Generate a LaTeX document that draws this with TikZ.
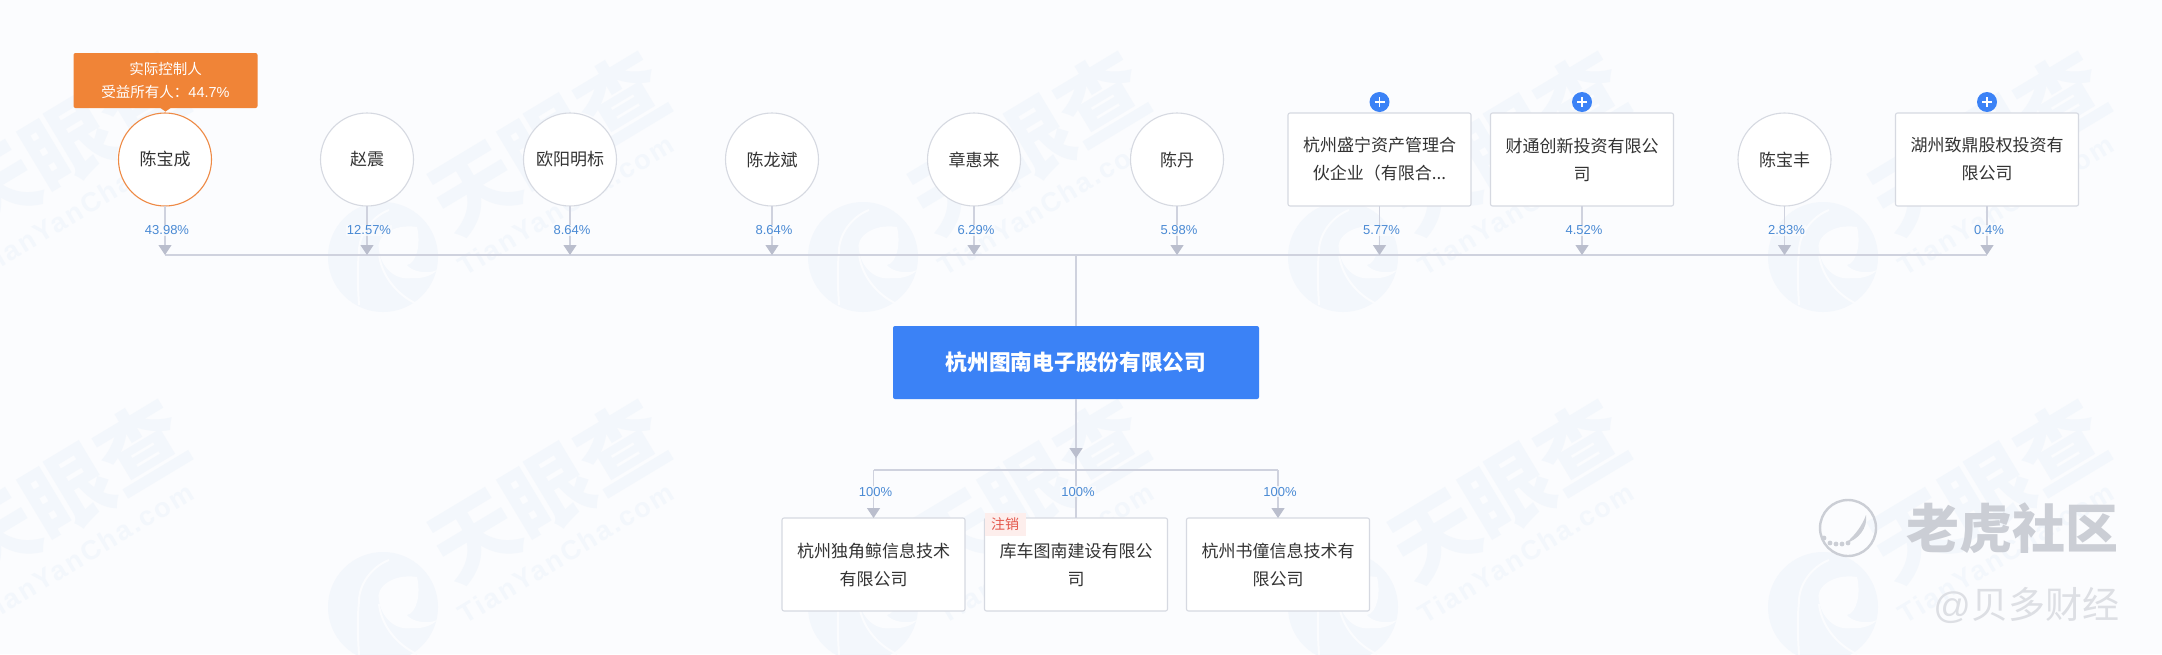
\documentclass[tikz,border=0pt]{standalone}
\usepackage{fontspec}
\setmainfont{Liberation Sans}
\newfontfamily\cjk{Noto Sans CJK SC}
\usetikzlibrary{arrows.meta,positioning,calc}
\definecolor{bgc}{HTML}{FBFCFE}
\definecolor{wm}{HTML}{F3F7FC}
\definecolor{linec}{HTML}{CFD2DE}
\definecolor{tipc}{HTML}{BABECD}
\definecolor{edgec}{HTML}{D6D9E1}
\definecolor{txt}{HTML}{333333}
\definecolor{pctc}{HTML}{4A8AD4}
\definecolor{mainb}{HTML}{3B82F6}
\definecolor{orangec}{HTML}{F08437}
\definecolor{orangel}{HTML}{EE8A45}
\definecolor{tigc}{HTML}{CBCED5}
\definecolor{tigl}{HTML}{DDDFE4}
\definecolor{redbg}{HTML}{FDEEEC}
\definecolor{redtx}{HTML}{E4574B}
\tikzset{
 every node/.style={inner sep=0pt,outer sep=0pt},
 person/.style={circle,draw=edgec,line width=1.1pt,fill=white,minimum size=93pt,text=txt,
   font=\cjk\fontsize{17}{28}\selectfont,align=center},
 controller/.style={person,draw=orangel},
 corp/.style={rectangle,rounded corners=2pt,draw=edgec,line width=1.1pt,fill=white,
   minimum width=183pt,minimum height=93pt,text=txt,
   font=\cjk\fontsize{17}{28}\selectfont,align=center},
 mainbox/.style={rectangle,rounded corners=2pt,fill=mainb,minimum width=366pt,minimum height=73pt,
   text=white,font=\cjk\bfseries\fontsize{21.7}{26}\selectfont},
 tagbox/.style={rectangle,rounded corners=2pt,fill=orangec,minimum width=184pt,minimum height=55pt,
   text=white,align=center,font=\fontsize{14.5}{23}\selectfont},
 redtag/.style={rectangle,fill=redbg,text=redtx,minimum width=41pt,minimum height=23pt,
   font=\cjk\fontsize{14}{16}\selectfont},
 plusdot/.style={circle,fill=mainb,minimum size=20pt,
   path picture={\draw[white,line width=1.8pt]
     ($(path picture bounding box.center)+(-5pt,0)$)--($(path picture bounding box.center)+(5pt,0)$)
     ($(path picture bounding box.center)+(0,-5pt)$)--($(path picture bounding box.center)+(0,5pt)$);}},
 pct/.style={text=pctc,font=\fontsize{13}{15}\selectfont,fill=bgc,fill opacity=.75,text opacity=1,inner sep=1pt,xshift=2pt},
 conn/.style={draw=linec,line width=1.2pt},
 bus/.style={draw=linec,line width=1.5pt},
 tipped/.style={conn,-{Triangle[length=10pt,width=13pt,color=tipc]}},
 wmtext/.style={text=wm,rotate=31,font=\cjk\bfseries\fontsize{86}{88}\selectfont},
 wmsub/.style={text=wm,rotate=31,font=\bfseries\addfontfeatures{LetterSpace=8}\fontsize{27}{30}\selectfont},
}
\newcommand{\wmlogo}[2]{%
 \begin{scope}[shift={(#1,#2)}]
  \fill[wm] (0,0) circle (55);
  \fill[bgc] (34,-30) .. controls (8,-34) and (-8,-18) .. (-4,-7)
     .. controls (-2,10) and (12,24) .. (29,21) .. controls (40,22) and (50,18) .. (54,13)
     .. controls (44,18) and (28,14) .. (24,8) .. controls (34,6) and (38,-14) .. (34,-30) -- cycle;
  \draw[bgc,line width=2pt] (6,-47) .. controls (-12,-40) and (-24,-22) .. (-24,-6) .. controls (-26,14) and (-25,32) .. (-24,48);
  \draw[bgc,line width=2pt] (-4,-3) .. controls (-2,18) and (14,38) .. (34,47);
 \end{scope}}
\begin{document}
\begin{tikzpicture}[x=1pt,y=-1pt]
\useasboundingbox (0,0) rectangle (2162,654);
\fill[bgc] (0,0) rectangle (2162,654);
% watermarks
\begin{scope}
\clip (0,0) rectangle (2162,654);
\foreach \lx/\ly in {383/257,863/257,1343/257,1823/257,383/607,863/607,1343/607,1823/607}{\wmlogo{\lx}{\ly}}
\foreach \i/\wx/\wy in {1/68/143,2/548/143,3/1028/143,4/1508/143,5/1988/143,6/68/491,7/548/491,8/1028/491,9/1508/491,10/1988/491}{
  \node[wmtext] (wma\i) at (\wx,\wy) {天眼查};
  \node[wmsub] (wmb\i) at (\wx+18,\wy+62) {TianYanCha.com};
}
\end{scope}
% tiger mark
\draw[tigc,line width=2.4pt] (1848,528) circle (28);
\fill[tigc] (1866,515) .. controls (1868,528) and (1858,540) .. (1846,543) .. controls (1855,535) and (1862,526) .. (1866,515) -- cycle;
\foreach \bx/\by in {1824/538,1830/543,1836/544,1842/544,1848/543}{\fill[tigc] (\bx,\by) circle (2.4);}
\node[text=tigc,font=\cjk\bfseries\fontsize{53}{56}\selectfont] (tiger) at (2012,528) {老虎社区};
\node[text=tigl,font=\cjk\fontsize{37}{40}\selectfont,anchor=east] (beiduo) at (2119,605) {{\fontspec{Liberation Sans}@}贝多财经};
% shareholders
\node[controller] (s1) at (165,159.5) {陈宝成};
\node[person] (s2) at (367,159.5) {赵震};
\node[person] (s3) at (570,159.5) {欧阳明标};
\node[person] (s4) at (772,159.5) {陈龙斌};
\node[person] (s5) at (974,159.5) {章惠来};
\node[person] (s6) at (1177,159.5) {陈丹};
\node[corp] (s7) at (1379.5,159.5) {杭州盛宁资产管理合\\伙企业（有限合...};
\node[corp] (s8) at (1582,159.5) {财通创新投资有限公\\司};
\node[person] (s9) at (1784.5,159.5) {陈宝丰};
\node[corp] (s10) at (1987,159.5) {湖州致鼎股权投资有\\限公司};
\node[plusdot] (p7) at (1379.5,102) {};
\node[plusdot] (p8) at (1582,102) {};
\node[plusdot] (p10) at (1987,102) {};
\node[tagbox] (tag) at (165.5,80.5) {{\cjk 实际控制人}\\{\cjk 受益所有人：}44.7\%};
\fill[orangec] (159,107) -- (172,107) -- (165.5,111.5) -- cycle;
% main
\node[mainbox] (main) at (1076,362.5) {杭州图南电子股份有限公司};
% subsidiaries
\node[corp] (c1) at (873.5,564.5) {杭州独角鲸信息技术\\有限公司};
\node[corp] (c2) at (1076,564.5) {库车图南建设有限公\\司};
\node[corp] (c3) at (1278,564.5) {杭州书僮信息技术有\\限公司};
\node[redtag] (gone) at (1005,524.5) {注销};
% bus points
\coordinate (b1) at (s1 |- 0,255);
\coordinate (b2) at (s2 |- 0,255);
\coordinate (b3) at (s3 |- 0,255);
\coordinate (b4) at (s4 |- 0,255);
\coordinate (b5) at (s5 |- 0,255);
\coordinate (b6) at (s6 |- 0,255);
\coordinate (b7) at (s7 |- 0,255);
\coordinate (b8) at (s8 |- 0,255);
\coordinate (b9) at (s9 |- 0,255);
\coordinate (b10) at (s10 |- 0,255);
\coordinate (bm) at (main |- 0,255);
\coordinate (m1) at (main |- 0,458);
\coordinate (k1) at (c1 |- 0,470);
\coordinate (k2) at (c2 |- 0,470);
\coordinate (k3) at (c3 |- 0,470);
\draw[bus] (b1) -- (b10);
\draw[tipped] (s1) -- node[pct,pos=.5]{43.98\%} (b1);
\draw[tipped] (s2) -- node[pct,pos=.5]{12.57\%} (b2);
\draw[tipped] (s3) -- node[pct,pos=.5]{8.64\%} (b3);
\draw[tipped] (s4) -- node[pct,pos=.5]{8.64\%} (b4);
\draw[tipped] (s5) -- node[pct,pos=.5]{6.29\%} (b5);
\draw[tipped] (s6) -- node[pct,pos=.5]{5.98\%} (b6);
\draw[tipped] (s7) -- node[pct,pos=.5]{5.77\%} (b7);
\draw[tipped] (s8) -- node[pct,pos=.5]{4.52\%} (b8);
\draw[tipped] (s9) -- node[pct,pos=.5]{2.83\%} (b9);
\draw[tipped] (s10) -- node[pct,pos=.5]{0.4\%} (b10);
\draw[conn] (bm) -- (main);
\draw[conn] (main) -- (k2);
\draw[tipped] (main) -- (m1);
\draw[bus] (k1) -- (k3);
\draw[tipped] (k1) -- node[pct,pos=.45]{100\%} (c1);
\draw[conn] (k2) -- node[pct,pos=.45]{100\%} (c2);
\draw[tipped] (k3) -- node[pct,pos=.45]{100\%} (c3);
\end{tikzpicture}
\end{document}
